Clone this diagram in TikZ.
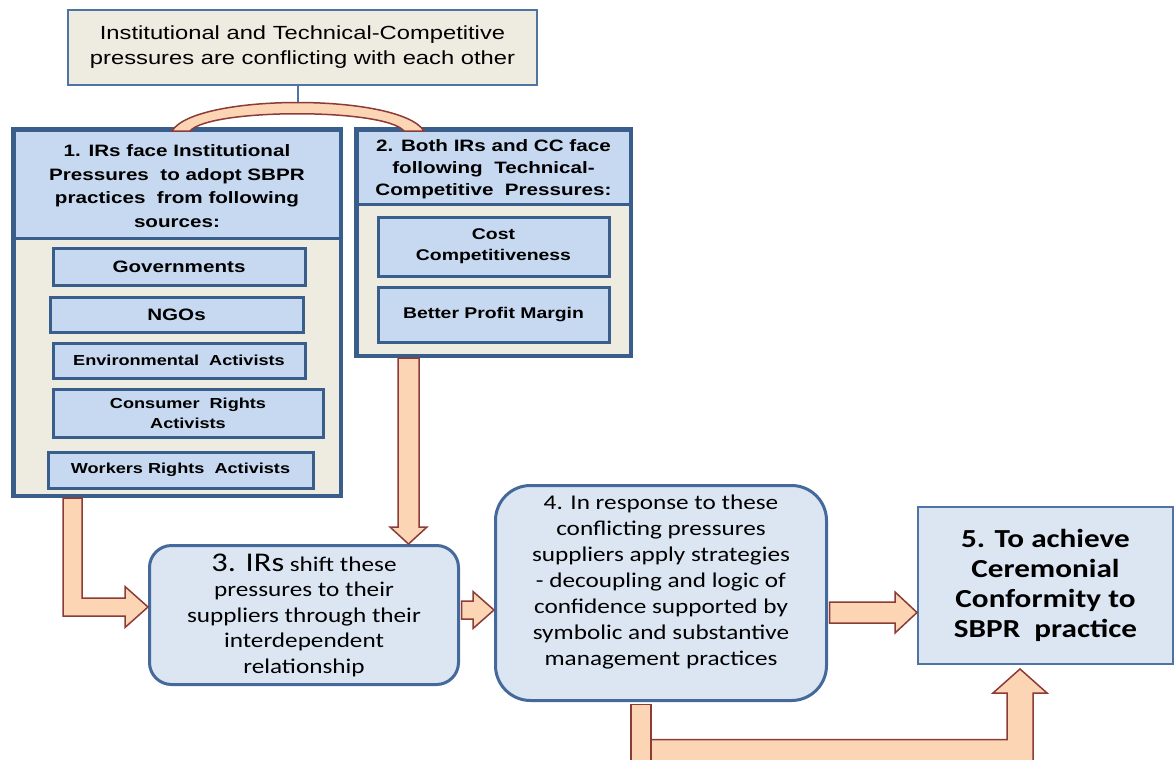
\documentclass[tikz,border=0pt]{standalone}
\usepackage{fontspec}
\newfontfamily\arialf[FakeStretch=1.25]{Liberation Sans}
\newfontfamily\calf[FakeStretch=1.2]{Carlito}
\usetikzlibrary{calc}
\definecolor{beige}{HTML}{EEECE1}
\definecolor{hblue}{HTML}{C6D9F1}
\definecolor{lblue}{HTML}{DCE6F2}
\definecolor{dblue}{HTML}{3A5E8C}
\definecolor{rblue}{HTML}{44699A}
\definecolor{tblue}{HTML}{4F74A3}
\definecolor{peach}{HTML}{FCD5B5}
\definecolor{bline}{HTML}{8C3B36}
\begin{document}
\begin{tikzpicture}[x=1pt,y=-1pt,
  topbox/.style={draw=tblue,line width=1.5,fill=beige,minimum width=469,minimum height=75,inner sep=0,align=center,font=\arialf\fontsize{19}{25}\selectfont},
  outerbox/.style={draw=dblue,line width=3,fill=beige,inner sep=0},
  headbox/.style={draw=dblue,line width=3,fill=hblue,inner sep=0,align=center},
  srcbox/.style={draw=dblue,line width=3,fill=hblue,inner sep=0,align=center,font=\arialf\bfseries\fontsize{14.5}{20}\selectfont},
  roundbox/.style={draw=rblue,line width=3,fill=lblue,inner sep=0,align=center},
  goalbox/.style={draw=tblue,line width=2,fill=lblue,inner sep=0,align=center,font=\calf\bfseries\fontsize{26}{30}\selectfont},
  blockarrow/.style={draw=bline,line width=1.5,fill=peach,line join=miter},
  bodytext/.style={align=center,inner sep=0,font=\calf\fontsize{21}{26}\selectfont}
]
\useasboundingbox (0,0) rectangle (1175,760);

% top box
\node[topbox] (top) at (302.5,47.5) {Institutional and Technical-Competitive\\pressures are conflicting with each other};

% box 1
\node[outerbox,minimum width=326,minimum height=365] (b1) at (177,312.5) {};
\node[headbox,minimum width=326,minimum height=108,anchor=north] (b1h) at (b1.north) {};
\node[align=center,inner sep=0,font=\arialf\bfseries\fontsize{16.5}{23.5}\selectfont] (b1t) at (177,186) {1. IRs face Institutional\\Pressures \ to adopt SBPR\\practices \ from following\\sources:};
\draw[dblue,line width=3] (b1.north west) rectangle (b1.south east);
\node[srcbox,minimum width=252,minimum height=37,font=\arialf\bfseries\fontsize{16.5}{20}\selectfont] (gov) at (179,266.5) {Governments};
\node[srcbox,minimum width=253,minimum height=35,font=\arialf\bfseries\fontsize{16.5}{20}\selectfont] (ngo) at (176.5,314.5) {NGOs};
\node[srcbox,minimum width=252,minimum height=35] (env) at (179,360.5) {Environmental \ Activists};
\node[srcbox,minimum width=270,minimum height=48] (cons) at (188,413) {Consumer \ Rights\\Activists};
\node[srcbox,minimum width=265,minimum height=36] (work) at (180.5,470) {Workers Rights \ Activists};

% box 2
\node[outerbox,minimum width=273,minimum height=225] (b2) at (493.5,242.5) {};
\node[headbox,minimum width=273,minimum height=74,anchor=north] (b2h) at (b2.north) {};
\node[align=center,inner sep=0,font=\arialf\bfseries\fontsize{16.5}{22}\selectfont] (b2t) at (493.5,169) {2. Both IRs and CC face\\following \ Technical-\\Competitive \ Pressures:};
\draw[dblue,line width=3] (b2.north west) rectangle (b2.south east);
\node[srcbox,minimum width=231,minimum height=59,font=\arialf\bfseries\fontsize{15.5}{21}\selectfont] (cost) at (493.5,246.5) {Cost\\Competitiveness};
\node[srcbox,minimum width=231,minimum height=55,font=\arialf\bfseries\fontsize{15.5}{21}\selectfont] (profit) at (493.5,314.5) {Better Profit Margin};

% box 3
\node[roundbox,rounded corners=22,minimum width=309,minimum height=139,font=\calf\fontsize{21}{25.5}\selectfont] (b3) at (304,615) {{\fontsize{27}{25.5}\selectfont 3. IRs} shift these\\pressures to their\\suppliers through their\\interdependent\\relationship};

% box 4
\node[roundbox,rounded corners=35,minimum width=331,minimum height=215] (b4) at (661,593) {};
\node[bodytext] (b4t) at (661,582) {4. In response to these\\conflicting pressures\\suppliers apply strategies\\- decoupling and logic of\\confidence supported by\\symbolic and substantive\\management practices};

% box 5
\node[goalbox,minimum width=255,minimum height=157] (b5) at (1045.5,585.5) {5. To achieve\\Ceremonial\\Conformity to\\SBPR \ practice};

% bracket arc
\draw[tblue,line width=1.2] ($(top.south)+(-4.5,0)$) -- ++(0,18);
\path[blockarrow] (172,131) .. controls (195,93) and (400,93) .. (424,131) -- (404,131) .. controls (385,108) and (210,108) .. (190,131) -- cycle;

% arrow 1 (elbow)
\coordinate (a1s) at ($(b1.south)+(-104.5,1.5)$);
\coordinate (a1e) at ($(b3.west)+(0,-8)$);
\path[blockarrow] let \p1=(a1s), \p2=(a1e) in
  (\x1-9.5pt,\y1) -- (\x1+9.5pt,\y1) -- (\x1+9.5pt,\y2+9pt) -- (\x2-23pt,\y2+9pt) -- (\x2-23pt,\y2+20.5pt)
  -- (\x2,\y2) -- (\x2-23pt,\y2-20.5pt) -- (\x2-23pt,\y2-9pt) -- (\x1-9.5pt,\y2-9pt) -- cycle;

% arrow 2 (down)
\coordinate (a2s) at ($(b2.south)+(-85,1.5)$);
\coordinate (a2e) at (a2s |- b3.north);
\path[blockarrow] let \p1=(a2s), \p2=(a2e) in
  (\x1-10.5pt,\y1) -- (\x1+10.5pt,\y1) -- (\x1+10.5pt,\y2+17pt) -- (\x1+18.5pt,\y2+17pt) -- (\x1,\y2)
  -- (\x1-18.5pt,\y2+17pt) -- (\x1-10.5pt,\y2+17pt) -- cycle;

% arrow 3
\coordinate (a3s) at ($(b3.east)+(1.5,-5)$);
\coordinate (a3e) at (a3s -| b4.west);
\path[blockarrow] let \p1=(a3s), \p2=(a3e) in
  (\x1,\y1+9pt) -- (\x2-21pt,\y1+9pt) -- (\x2-21pt,\y1+18.5pt) -- (\x2,\y1) -- (\x2-21pt,\y1-18.5pt)
  -- (\x2-21pt,\y1-9pt) -- (\x1,\y1-9pt) -- cycle;

% arrow 4
\coordinate (a4s) at ($(b4.east)+(1.5,19.5)$);
\coordinate (a4e) at (a4s -| b5.west);
\path[blockarrow] let \p1=(a4s), \p2=(a4e) in
  (\x1,\y1+10.5pt) -- (\x2-22pt,\y1+10.5pt) -- (\x2-22pt,\y1+20.5pt) -- (\x2,\y1) -- (\x2-22pt,\y1-20.5pt)
  -- (\x2-22pt,\y1-10.5pt) -- (\x1,\y1-10.5pt) -- cycle;

% arrow 5 (bent up)
\coordinate (a5s) at ($(b4.south)+(-20,0)$);
\coordinate (a5e) at ($(b5.south)+(-25.5,4)$);
\path[blockarrow] let \p1=(a5s), \p2=(a5e) in
  (\x1+10pt,\y1-37.5pt) -- (\x2-13pt,\y1-37.5pt) -- (\x2-13pt,\y2-24pt) -- (\x2-27pt,\y2-24pt) -- (\x2,\y2)
  -- (\x2+27pt,\y2-24pt) -- (\x2+13pt,\y2-24pt) -- (\x2+13pt,\y1-74.5pt) -- (\x1+10pt,\y1-74.5pt) -- cycle;
\path[blockarrow] let \p1=(a5s) in (\x1-10pt,\y1-2.5pt) rectangle (\x1+10pt,\y1-74.5pt);
\end{tikzpicture}
\end{document}
